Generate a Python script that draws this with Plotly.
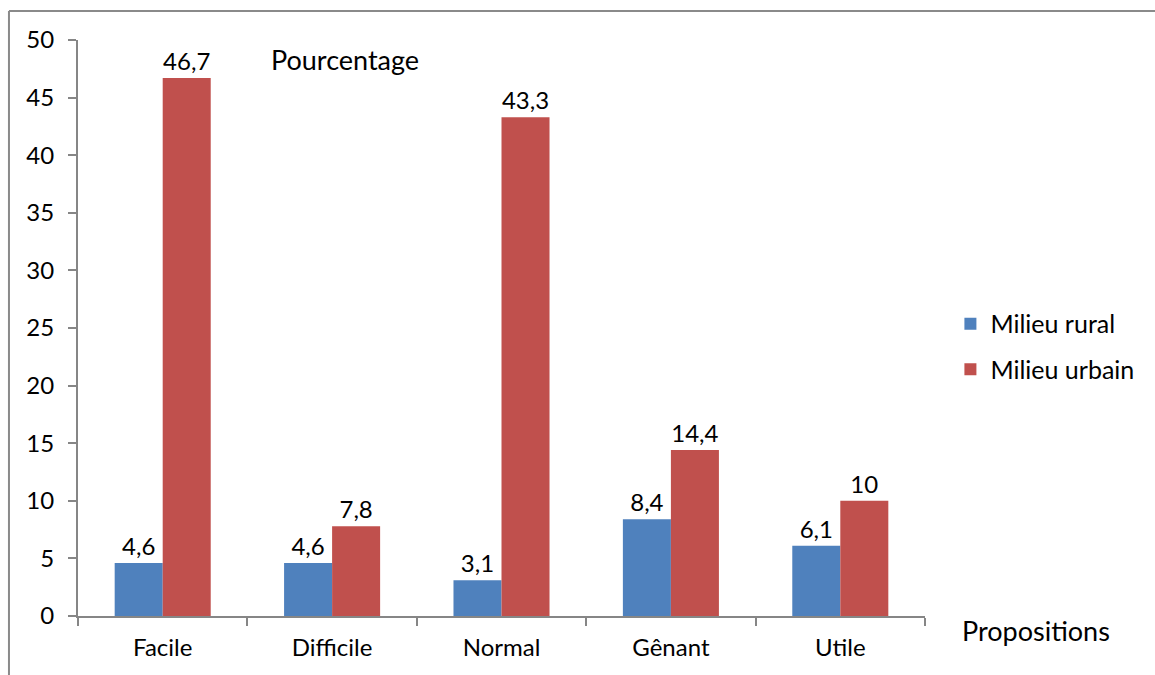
import plotly.graph_objects as go

categories = ["Facile", "Difficile", "Normal", "Gênant", "Utile"]
rural = [4.6, 4.6, 3.1, 8.4, 6.1]
urbain = [46.7, 7.8, 43.3, 14.4, 10]
y_ticks = [0, 5, 10, 15, 20, 25, 30, 35, 40, 45, 50]

FONT = "Lato, 'Open Sans', sans-serif"
GRAY = "#868686"

fig = go.Figure()
fig.add_trace(go.Bar(
    x=categories, y=rural, name="Milieu rural", legendgroup="r",
    marker=dict(color="#4F81BD", line=dict(width=0)),
    texttemplate="%{y}", textposition="outside",
    textfont=dict(size=24, color="black", family=FONT), cliponaxis=False,
))
fig.add_trace(go.Bar(
    x=categories, y=urbain, name="Milieu urbain", legendgroup="u",
    marker=dict(color="#C0504D", line=dict(width=0)),
    texttemplate="%{y}", textposition="outside",
    textfont=dict(size=24, color="black", family=FONT), cliponaxis=False,
))

fig.update_layout(
    width=1155, height=675,
    margin=dict(l=78, r=230, t=40, b=59),
    paper_bgcolor="white", plot_bgcolor="white",
    separators=", ",
    barmode="group", bargap=0.433, bargroupgap=0,
    font=dict(family=FONT, size=24, color="black"),
    showlegend=True,
    legend=dict(x=1.030, y=0.547, xanchor="left", yanchor="top",
                font=dict(size=25), tracegroupgap=10, itemwidth=30,
                bgcolor="rgba(0,0,0,0)"),
    xaxis=dict(showline=True, linecolor=GRAY, linewidth=2,
               ticks="outside", ticklen=8, tickcolor=GRAY, tickwidth=2,
               tickson="boundaries", showgrid=False,
               ticklabelstandoff=9, tickfont=dict(size=24)),
    yaxis=dict(range=[0, 50], tickvals=y_ticks, showline=True, linecolor=GRAY,
               linewidth=2, ticks="outside", ticklen=8, tickcolor=GRAY,
               tickwidth=2, showgrid=False, zeroline=False,
               ticklabelstandoff=9, tickfont=dict(size=24)),
    annotations=[
        dict(text="Pourcentage", x=(345 - 78) / 847, y=(616 - 60) / 576,
             xref="paper", yref="paper", xanchor="center", yanchor="middle",
             showarrow=False, font=dict(size=27)),
        dict(text="Propositions", x=(1036 - 78) / 847, y=(616 - 630) / 576,
             xref="paper", yref="paper", xanchor="center", yanchor="middle",
             showarrow=False, font=dict(size=27)),
    ],
    shapes=[
        dict(type="line", xref="paper", yref="paper", x0=-0.0815, x1=-0.0815,
             y0=-0.2, y1=1.0503, line=dict(color="#8a8a8a", width=2)),
        dict(type="line", xref="paper", yref="paper", x0=-0.0815, x1=1.4,
             y0=1.0503, y1=1.0503, line=dict(color="#8a8a8a", width=2)),
    ],
)

fig.write_html("out.html")
